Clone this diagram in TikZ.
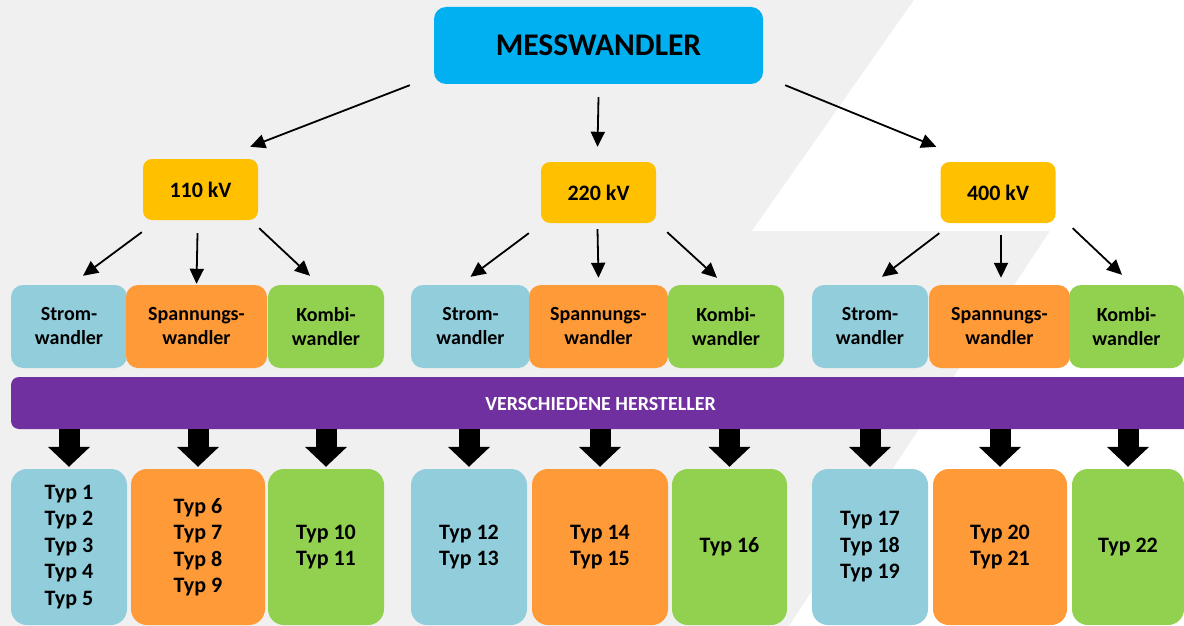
\documentclass[tikz,border=0pt]{standalone}
\usepackage{fontspec}
\setmainfont{Carlito}
\usetikzlibrary{arrows.meta}

\definecolor{bggrey}{HTML}{F0F0F0}
\definecolor{topblue}{HTML}{00B0F0}
\definecolor{kvgold}{HTML}{FFC000}
\definecolor{stromblue}{HTML}{92CDDC}
\definecolor{spanorange}{HTML}{FF9A38}
\definecolor{kombigreen}{HTML}{92D050}
\definecolor{barpurple}{HTML}{7030A0}

\tikzset{
  box/.style={rounded corners=#1, inner sep=0pt, align=center, font=\bfseries},
  thinarrow/.style={line width=1.8pt, -{Triangle[length=15pt,width=14pt]}},
  fatarrow/.style={line width=21pt, -{Triangle[length=20pt,width=41pt]}, shorten >=2pt},
  kind/.style={box=12pt, minimum height=83pt, font=\bfseries\fontsize{20}{24}\selectfont},
  typbox/.style={box=16pt, minimum height=156pt, font=\bfseries\fontsize{22}{26.5}\selectfont},
}

\begin{document}
\begin{tikzpicture}[x=1pt, y=-1pt]
		%%%%% BACKGROUND %%%%%
		\clip (0,0) rectangle (1184,626);
		\fill[bggrey] (0,0) rectangle (1184,626);
		\fill[white] (914,0) -- (1184,0) -- (1184,626) -- (789,626) -- (1050,231) -- (752,231) -- cycle;
		
		%%%%% TOP %%%%%
		\node[box=12pt, fill=topblue, minimum width=329pt, minimum height=77pt,
		  font=\bfseries\fontsize{31.5}{37}\selectfont] (mess) at (598.5,45.5) {MESSWANDLER};
		
		\node[box=9pt, fill=kvgold, minimum width=115pt, minimum height=61pt,
		  font=\bfseries\fontsize{22}{26}\selectfont] (kv110) at (200.5,189.5) {110 kV};
		\node[box=9pt, fill=kvgold, minimum width=115pt, minimum height=61pt,
		  font=\bfseries\fontsize{22}{26}\selectfont] (kv220) at (598.5,192.5) {220 kV};
		\node[box=9pt, fill=kvgold, minimum width=115pt, minimum height=61pt,
		  font=\bfseries\fontsize{22}{26}\selectfont] (kv400) at (998,192.5) {400 kV};
		
		\draw[thinarrow] ([shift={(-24,1)}]mess.south west) -- ([shift={(-8,-12)}]kv110.north east);
		\draw[thinarrow] ([shift={(0,13)}]mess.south) -- ([shift={(-1,-15)}]kv220.north);
		\draw[thinarrow] ([shift={(22,1)}]mess.south east) -- ([shift={(-4,-15)}]kv400.north west);
		
		%%%%% WANDLER %%%%%
		\node[kind, fill=stromblue, minimum width=116pt] (st1) at (69,326.5) {Strom-\\wandler};
		\node[kind, fill=spanorange, minimum width=141pt] (sp1) at (196.5,326.5) {Spannungs-\\wandler};
		\node[kind, fill=kombigreen, minimum width=116pt] (ko1) at (326,326.5) {Kombi-\\wandler};
		
		\node[kind, fill=stromblue, minimum width=119pt] (st2) at (470.5,326.5) {Strom-\\wandler};
		\node[kind, fill=spanorange, minimum width=139pt] (sp2) at (598.5,326.5) {Spannungs-\\wandler};
		\node[kind, fill=kombigreen, minimum width=116pt] (ko2) at (726,326.5) {Kombi-\\wandler};
		
		\node[kind, fill=stromblue, minimum width=116pt] (st3) at (870,326.5) {Strom-\\wandler};
		\node[kind, fill=spanorange, minimum width=141pt] (sp3) at (999.5,326.5) {Spannungs-\\wandler};
		\node[kind, fill=kombigreen, minimum width=115pt] (ko3) at (1126.5,326.5) {Kombi-\\wandler};
		
		\draw[thinarrow] ([shift={(-1,12)}]kv110.south west) -- ([shift={(14,-9)}]st1.north);
		\draw[thinarrow] ([shift={(-3,13)}]kv110.south) -- ([shift={(0,-1)}]sp1.north);
		\draw[thinarrow] ([shift={(1,8)}]kv110.south east) -- ([shift={(-16,-9)}]ko1.north);
		
		\draw[thinarrow] ([shift={(-12,10)}]kv220.south west) -- ([shift={(0,-8)}]st2.north);
		\draw[thinarrow] ([shift={(-1,6)}]kv220.south) -- ([shift={(0,-7)}]sp2.north);
		\draw[thinarrow] ([shift={(11,9)}]kv220.south east) -- ([shift={(-9,-7)}]ko2.north);
		
		\draw[thinarrow] ([shift={(-1,10)}]kv400.south west) -- ([shift={(12,-8)}]st3.north);
		\draw[thinarrow] ([shift={(3,12)}]kv400.south) -- ([shift={(1.5,-7)}]sp3.north);
		\draw[thinarrow] ([shift={(17,5)}]kv400.south east) -- ([shift={(-4.5,-10)}]ko3.north);
		
		%%%%% HERSTELLER %%%%%
		\node[box=8pt, fill=barpurple, minimum width=1190pt, minimum height=52pt] (bar) at (606,403) {};
		\node[text=white, font=\bfseries\fontsize{20}{24}\selectfont] (barlabel) at (600.5,404) {VERSCHIEDENE HERSTELLER};
		
		%%%%% TYPEN %%%%%
		\node[typbox, fill=stromblue, minimum width=116pt] (b1) at (69,547) {Typ 1\\Typ 2\\Typ 3\\Typ 4\\Typ 5};
		\node[typbox, fill=spanorange, minimum width=134pt] (b2) at (198,547) {Typ 6\\Typ 7\\Typ 8\\Typ 9};
		\node[typbox, fill=kombigreen, minimum width=116pt] (b3) at (326,547) {Typ 10\\Typ 11};
		\node[typbox, fill=stromblue, minimum width=116pt] (b4) at (469,547) {Typ 12\\Typ 13};
		\node[typbox, fill=spanorange, minimum width=136pt] (b5) at (600,547) {Typ 14\\Typ 15};
		\node[typbox, fill=kombigreen, minimum width=115pt] (b6) at (729.5,547) {Typ 16};
		\node[typbox, fill=stromblue, minimum width=116pt] (b7) at (870,547) {Typ 17\\Typ 18\\Typ 19};
		\node[typbox, fill=spanorange, minimum width=134pt] (b8) at (1000,547) {Typ 20\\Typ 21};
		\node[typbox, fill=kombigreen, minimum width=112pt] (b9) at (1128,547) {Typ 22};
		
		\foreach \b in {b1,b2,b3,b4,b5,b6,b7,b8,b9}
		  \draw[fatarrow] (\b.north |- bar.south) -- (\b.north);
		%%%%% END %%%%%
\end{tikzpicture}
\end{document}
